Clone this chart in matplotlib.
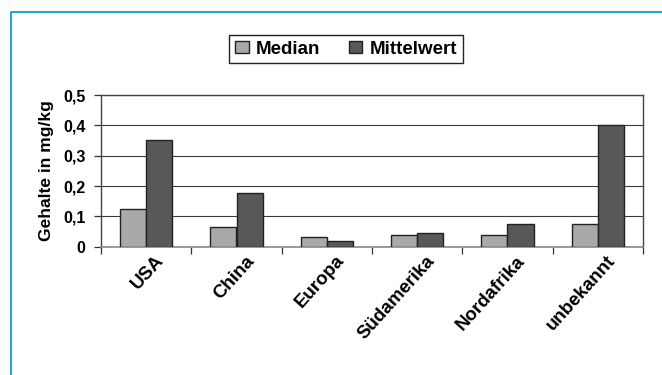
import numpy as np
import matplotlib.pyplot as plt
from matplotlib.lines import Line2D
from matplotlib.transforms import ScaledTranslation

plt.rcParams['font.family'] = ['Liberation Sans', 'DejaVu Sans']
plt.rcParams['font.weight'] = 'bold'

regionen = ["USA", "China", "Europa", "Südamerika", "Nordafrika", "unbekannt"]
median = [0.124, 0.064, 0.033, 0.038, 0.038, 0.076]
mittelwert = [0.351, 0.177, 0.018, 0.045, 0.076, 0.40]
y_ticks = [0, 0.1, 0.2, 0.3, 0.4, 0.5]
y_ticklabels = ["0", "0,1", "0,2", "0,3", "0,4", "0,5"]

fig = plt.figure(figsize=(6.62, 3.75), dpi=100)
ax = fig.add_axes([101/662, 1-246.7/375, (643-101)/662, (246.7-95)/375])

x = np.arange(len(regionen))
w = 0.29
ax.bar(x - w/2, median, w, color="#a9a9ac", edgecolor="#222222", linewidth=1.0,
       label="Median", zorder=3)
ax.bar(x + w/2, mittelwert, w, color="#58585b", edgecolor="#222222", linewidth=1.0,
       label="Mittelwert", zorder=3)

ax.set_xlim(-0.5, len(regionen) - 0.5)
ax.set_ylim(0, 0.5)
ax.set_yticks(y_ticks)
ax.set_yticklabels(y_ticklabels, fontsize=11.5, fontweight='bold')
ax.yaxis.grid(True, color="#3a3a3a", linewidth=0.8, zorder=0)
ax.set_axisbelow(True)

# category ticks sit between the groups, labels at the group centres
ax.set_xticks(np.arange(len(regionen) + 1) - 0.5)
ax.set_xticklabels([])
ax.set_xticks(x, minor=True)
ax.set_xticklabels(regionen, minor=True, rotation=48, ha='right', va='top',
                   fontsize=13.5, fontweight='bold')
ax.tick_params(axis='x', which='minor', length=0, pad=4)
ax.tick_params(axis='x', which='major', length=5, width=0.9, color="#333333")
ax.tick_params(axis='y', length=5, width=0.9, color="#333333", pad=6)
off = ScaledTranslation(21/100, 0, fig.dpi_scale_trans)
for lbl in ax.get_xticklabels(minor=True):
    lbl.set_transform(lbl.get_transform() + off)

for s in ["left", "right", "top"]:
    ax.spines[s].set_color("#444444")
    ax.spines[s].set_linewidth(1.0)
ax.spines["bottom"].set_color("#888888")
ax.spines["bottom"].set_linewidth(1.2)

ax.set_ylabel("Gehalte in mg/kg", fontsize=12.5, fontweight='bold', labelpad=7)

fig.legend(loc='center', bbox_to_anchor=(346/662, 1-49/375), ncol=2,
           prop={'size': 13.5, 'weight': 'bold'}, frameon=True, fancybox=False,
           edgecolor="#222222", framealpha=1, handlelength=0.72,
           handleheight=0.55, handletextpad=0.4, columnspacing=1.5,
           borderpad=0.3)

# outer frame lines
fig.add_artist(Line2D([10.7/662, 10.7/662, 1.0], [0.0, 1-11.7/375, 1-11.7/375],
                      transform=fig.transFigure, color="#1ea2e0", linewidth=1.4))

fig.savefig("out.png", dpi=100)
